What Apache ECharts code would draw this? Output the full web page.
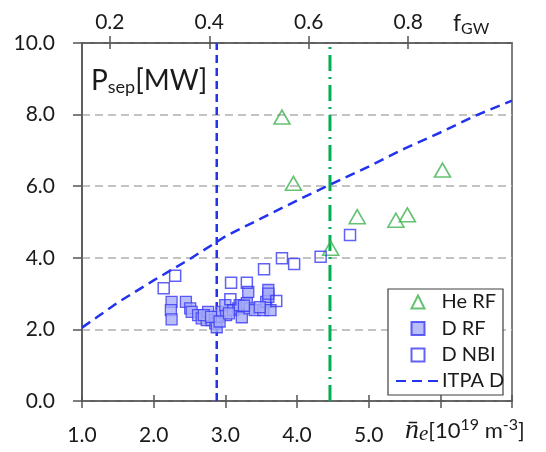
<!DOCTYPE html>
<html><head><meta charset="utf-8">
<script src="https://cdn.jsdelivr.net/npm/echarts@6/dist/echarts.min.js"></script>
<style>html,body{margin:0;padding:0;background:#fff}#c{width:546px;height:452px}</style>
</head><body><div id="c"></div>
<script>
// ---- data ----
const nGW = 6.94;                       // ne at fGW = 1
const fgwTicks = [0.2, 0.4, 0.6, 0.8];  // top axis tick labels
const xLabelMax = 5;                    // bottom labels shown up to 5.0
const heRF = [[3.79,7.93],[3.95,6.08],[4.47,4.27],[4.84,5.15],[5.38,5.05],[5.54,5.20],[6.03,6.45]];
const dRF = [[2.25,2.77],[2.24,2.54],[2.25,2.28],[2.45,2.77],[2.51,2.59],[2.53,2.49],[2.62,2.40],[2.67,2.31],
  [2.74,2.26],[2.76,2.49],[2.81,2.26],[2.86,2.17],[2.88,2.06],[2.90,2.35],[2.95,2.49],[3.01,2.40],[3.00,2.68],
  [3.11,2.54],[3.18,2.59],[3.23,2.34],[3.20,2.68],[3.30,2.73],[3.32,3.05],[3.34,2.59],[3.41,2.54],[3.53,2.54],
  [3.57,2.77],[3.60,2.91],[3.60,3.10],[3.63,2.54],[3.60,3.00],[2.70,2.40],[2.80,2.35],[2.92,2.22],[3.05,2.45],
  [3.26,2.66],[3.48,2.62]];
const dNBI = [[2.14,3.15],[2.30,3.50],[3.08,3.30],[3.30,3.30],[3.54,3.68],[3.79,3.99],[3.96,3.83],[4.33,4.03],
  [4.74,4.64],[3.07,2.84],[3.71,2.79]];
const itpaD = [[1.0,2.05],[1.5,2.75],[2.0,3.37],[2.5,3.96],[3.0,4.60],[3.5,5.10],[4.0,5.60],[4.5,6.08],
  [5.0,6.55],[5.5,7.05],[6.0,7.50],[6.5,7.98],[7.0,8.39]];
const blueLimitNe = 2.88;
const greenLimitNe = 4.46;

const blue = '#2233ee', green = '#00b050', tri = '#3fb34f', axisC = '#555555', txt = '#1a1a1a';
const FONT = 'Lato';
const chart = echarts.init(document.getElementById('c'), null, {renderer: 'canvas'});
const axisBase = {
  axisLine: {show: true, onZero: false, lineStyle: {color: axisC, width: 1.5}},
  splitLine: {show: false}
};
const legendText = {fontSize: 20, fontFamily: FONT, color: txt, lineHeight: 20};
chart.setOption({
  animation: false,
  backgroundColor: '#fff',
  grid: {left: 82, right: 34, top: 43, bottom: 51, show: true, borderColor: axisC, borderWidth: 1.5, backgroundColor: '#fff'},
  xAxis: [
    Object.assign({type: 'value', position: 'bottom', min: 1, max: 7, interval: 1,
      axisTick: {show: true, inside: false, length: 7, lineStyle: {color: axisC, width: 1.5}},
      axisLabel: {margin: 24, fontSize: 21, fontFamily: FONT, color: txt,
        formatter: v => v <= xLabelMax ? v.toFixed(1) : ''}}, axisBase),
    Object.assign({type: 'value', position: 'top', min: 1 / nGW, max: 7 / nGW,
      axisTick: {show: true, inside: false, length: 7, customValues: fgwTicks, lineStyle: {color: axisC, width: 1.5}},
      axisLabel: {margin: 10, fontSize: 21, fontFamily: FONT, color: txt, customValues: fgwTicks,
        formatter: v => v.toFixed(1)}}, axisBase),
    {type: 'value', position: 'bottom', min: 1, max: 7, interval: 1, axisLine: {show: false},
      axisTick: {show: true, inside: true, length: 6, lineStyle: {color: axisC, width: 1.5}},
      axisLabel: {show: false}, splitLine: {show: false}},
    {type: 'value', position: 'top', min: 1 / nGW, max: 7 / nGW, axisLine: {show: false},
      axisTick: {show: true, inside: true, length: 6, customValues: fgwTicks, lineStyle: {color: axisC, width: 1.5}},
      axisLabel: {show: false, customValues: fgwTicks}, splitLine: {show: false}}
  ],
  yAxis: [{type: 'value', min: 0, max: 10, interval: 2,
    axisLine: {show: true, lineStyle: {color: axisC, width: 1.5}},
    axisTick: {show: true, inside: false, length: 9, lineStyle: {color: axisC, width: 1.5}},
    axisLabel: {margin: 27, fontSize: 21, fontFamily: FONT, color: txt, formatter: v => v.toFixed(1)},
    splitLine: {show: true, lineStyle: {color: '#b0b0b0', width: 1.5, type: [8, 5]}}
  }],
  legend: [
    {data: ['He RF', 'D RF', 'D NBI'], orient: 'vertical', left: 410.5, top: 292, selectedMode: false,
      padding: 0, itemWidth: 13, itemHeight: 13, itemGap: 6.5, z: 8,
      textStyle: Object.assign({padding: [0, 0, 0, 12]}, legendText)},
    {data: ['ITPA D'], orient: 'vertical', left: 395, top: 371, selectedMode: false,
      padding: 0, itemWidth: 42, itemHeight: 13, z: 8,
      itemStyle: {color: 'rgba(0,0,0,0)', borderWidth: 0, opacity: 0},
      textStyle: Object.assign({padding: [0, 0, 0, -1]}, legendText)}
  ],
  series: [
    {name: 'blueLimit', type: 'line', data: [[blueLimitNe, 0], [blueLimitNe, 10]], symbol: 'none',
      lineStyle: {color: blue, width: 2.5, type: [8, 5]}, z: 2},
    {name: 'greenLimit', type: 'line', data: [[greenLimitNe, 0], [greenLimitNe, 10]], symbol: 'none',
      lineStyle: {color: green, width: 3, type: [16, 6, 2, 6]}, z: 2},
    {name: 'ITPA D', type: 'line', data: itpaD, symbol: 'none', smooth: false,
      itemStyle: {color: blue}, lineStyle: {color: blue, width: 2.5, type: [10, 6]}, z: 3},
    {name: 'He RF', type: 'scatter', data: heRF, symbol: 'triangle', symbolSize: [16, 14],
      itemStyle: {color: 'rgba(255,255,255,0)', borderColor: tri, borderWidth: 1.6}, z: 4},
    {name: 'D RF', type: 'scatter', data: dRF, symbol: 'rect', symbolSize: 11,
      itemStyle: {color: '#a8adf7', borderColor: '#3a3af5', borderWidth: 1.3}, z: 4},
    {name: 'D NBI', type: 'scatter', data: dNBI, symbol: 'rect', symbolSize: 11,
      itemStyle: {color: 'rgba(255,255,255,0)', borderColor: '#3a3af5', borderWidth: 1.5}, z: 5}
  ],
  graphic: [
    {type: 'rect', z: 6, shape: {x: 388, y: 289, width: 115, height: 106},
      style: {fill: '#fff', stroke: '#404040', lineWidth: 1.2}},
    {type: 'text', x: 91, y: 65, z: 10, style: {
      text: '{p|P}{s|sep}{p|[MW]}', verticalAlign: 'top',
      rich: {p: {fontSize: 28, fontFamily: FONT, fill: txt, lineHeight: 31},
             s: {fontSize: 18, fontFamily: FONT, fill: txt, lineHeight: 10, verticalAlign: 'bottom'}}}},
    {type: 'text', x: 453, y: 11, z: 10, style: {
      text: '{p|f}{s|GW}', verticalAlign: 'top',
      rich: {p: {fontSize: 23, fontFamily: FONT, fill: txt, lineHeight: 26},
             s: {fontSize: 16, fontFamily: FONT, fill: txt, lineHeight: 8, verticalAlign: 'bottom'}}}},
    {type: 'text', x: 405, y: 417, z: 10, style: {
      text: '{i|n\u0304}{ie|e}{t|[10}{sup|19}{t| m}{sup|-3}{t|]}', verticalAlign: 'top',
      rich: {i: {fontSize: 28, fontFamily: 'Liberation Serif', fontStyle: 'italic', fill: txt, lineHeight: 28},
             ie: {fontSize: 21, fontFamily: 'Liberation Serif', fontStyle: 'italic', fill: txt, lineHeight: 10, verticalAlign: 'bottom'},
             t: {fontSize: 22, fontFamily: FONT, fill: txt, lineHeight: 28},
             sup: {fontSize: 16, fontFamily: FONT, fill: txt, lineHeight: 14, verticalAlign: 'top'}}}}
  ]
});
</script></body></html>
